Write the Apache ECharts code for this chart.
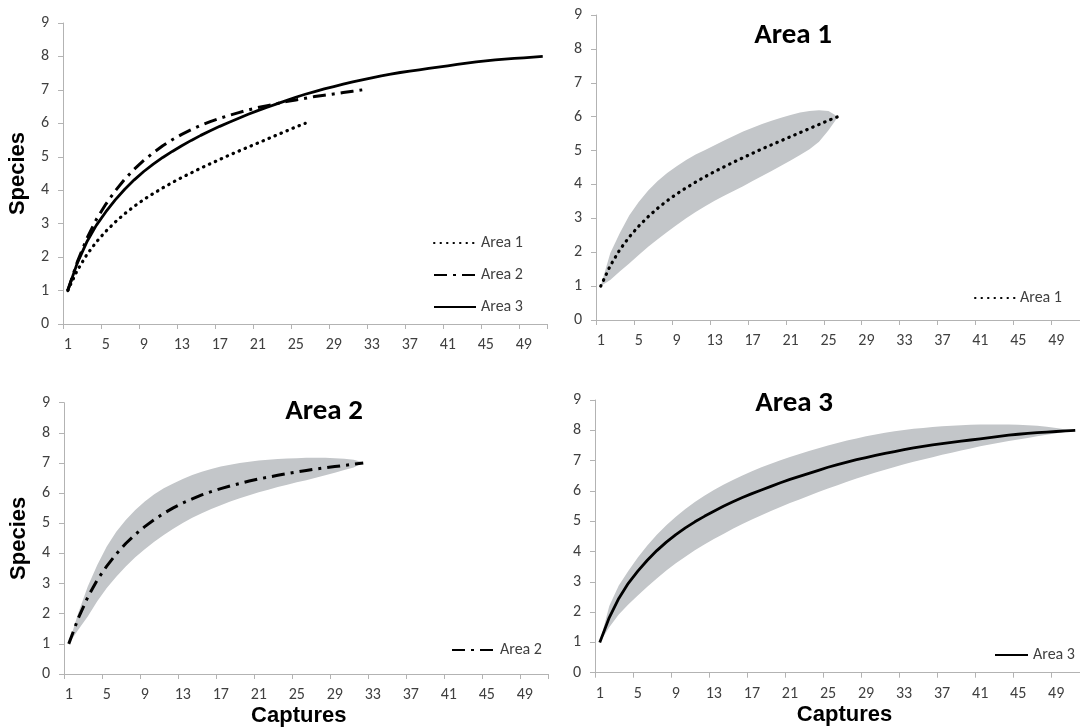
<!DOCTYPE html>
<html><head><meta charset="utf-8">
<script src="https://cdn.jsdelivr.net/npm/echarts@6/dist/echarts.min.js"></script>
<style>html,body{margin:0;padding:0;background:#fff}#c{width:1080px;height:728px}</style>
</head><body><div id="c"></div><script>
// ---- data ----
const captures = ['1','2','3','4','5','6','7','8','9','10','11','12','13','14','15','16','17','18','19','20','21','22','23','24','25','26','27','28','29','30','31','32','33','34','35','36','37','38','39','40','41','42','43','44','45','46','47','48','49','50','51'];
const speciesTicks = [0,1,2,3,4,5,6,7,8,9];

const area1Mean  = [1.00,1.60,2.07,2.45,2.77,3.05,3.30,3.52,3.72,3.90,4.07,4.23,4.38,4.52,4.66,4.79,4.92,5.05,5.17,5.29,5.41,5.53,5.65,5.77,5.89,6.00];
const area1Upper = [1.00,1.97,2.56,3.08,3.48,3.82,4.10,4.34,4.54,4.72,4.88,5.02,5.16,5.30,5.43,5.56,5.67,5.78,5.88,5.97,6.05,6.12,6.17,6.19,6.17,6.00];
const area1Lower = [1.00,1.18,1.43,1.67,1.92,2.16,2.38,2.60,2.80,3.00,3.19,3.36,3.52,3.67,3.81,3.95,4.10,4.25,4.40,4.55,4.71,4.87,5.04,5.26,5.60,6.00];

const area2Mean  = [1.00,1.85,2.55,3.12,3.58,3.98,4.33,4.63,4.89,5.12,5.33,5.51,5.67,5.81,5.94,6.05,6.15,6.24,6.32,6.40,6.47,6.53,6.59,6.65,6.70,6.75,6.80,6.84,6.88,6.92,6.96,7.00];
const area2Upper = [1.00,2.02,2.90,3.62,4.23,4.72,5.11,5.44,5.72,5.96,6.16,6.32,6.47,6.60,6.71,6.80,6.88,6.94,7.00,7.04,7.08,7.11,7.13,7.15,7.16,7.17,7.17,7.17,7.16,7.14,7.11,7.02];
const area2Lower = [1.00,1.47,1.91,2.41,2.85,3.23,3.57,3.87,4.14,4.39,4.61,4.82,5.01,5.18,5.33,5.47,5.60,5.72,5.83,5.93,6.03,6.11,6.20,6.28,6.36,6.43,6.51,6.59,6.68,6.77,6.85,6.98];

const area3Mean  = [1.00,1.82,2.45,2.95,3.35,3.71,4.03,4.31,4.56,4.78,4.98,5.16,5.33,5.49,5.64,5.78,5.91,6.03,6.15,6.27,6.38,6.48,6.58,6.68,6.78,6.87,6.95,7.03,7.10,7.17,7.24,7.30,7.36,7.42,7.47,7.52,7.56,7.60,7.64,7.68,7.72,7.76,7.80,7.84,7.87,7.90,7.92,7.94,7.96,7.98,8.00];
const area3Upper = [1.00,2.20,2.88,3.36,3.80,4.20,4.55,4.87,5.15,5.40,5.63,5.84,6.03,6.20,6.36,6.51,6.65,6.78,6.90,7.01,7.12,7.22,7.32,7.41,7.50,7.58,7.66,7.73,7.80,7.86,7.92,7.97,8.01,8.05,8.08,8.11,8.13,8.15,8.17,8.18,8.19,8.19,8.19,8.19,8.18,8.17,8.15,8.12,8.08,8.03,8.00];
const area3Lower = [1.00,1.50,1.92,2.25,2.55,2.84,3.11,3.37,3.61,3.83,4.04,4.23,4.41,4.58,4.75,4.91,5.06,5.20,5.34,5.47,5.60,5.72,5.84,5.96,6.08,6.19,6.30,6.41,6.51,6.61,6.70,6.79,6.88,6.96,7.04,7.11,7.19,7.26,7.33,7.40,7.47,7.53,7.59,7.65,7.70,7.75,7.80,7.85,7.90,7.95,8.00];

// ---- styles ----
const AXIS = '#b3b3b3', LABEL = '#404040', BAND = '#c3c6c9';
const FONT = 'Carlito, Lato, sans-serif';
const style1 = {color:'#000', width:3.2, type:[0.5,6], cap:'round'};
const style2 = {color:'#000', width:3, type:[13,6,3,6]};
const style3 = {color:'#000', width:2.8, type:'solid'};

const grids = [
  {left:63,  top:23,    width:484.5, height:301},
  {left:596, top:15,    width:487,   height:305},
  {left:64,  top:402.7, width:484.5, height:271.6},
  {left:595, top:400,   width:488.6, height:272.7}
];

function mkX(i, name, pad){
  return {
    type:'category', gridIndex:i, data:captures, boundaryGap:true,
    axisLine:{show:true, lineStyle:{color:AXIS, width:1}},
    axisTick:{show:true, interval:3, length:5, lineStyle:{color:AXIS}},
    axisLabel:{interval:3, margin:13, color:LABEL, fontSize:16, fontFamily:FONT},
    splitLine:{show:false},
    name:name||'', nameLocation:'middle', nameGap:31,
    nameTextStyle:{fontFamily:'Liberation Sans, Arial, sans-serif', fontWeight:'bold', fontSize:22, color:'#000', padding:pad||0}
  };
}
function mkY(i, name){
  return {
    type:'value', gridIndex:i, min:speciesTicks[0], max:speciesTicks[speciesTicks.length-1], interval:1,
    axisLine:{show:true, lineStyle:{color:AXIS, width:1}},
    axisTick:{show:true, length:5, lineStyle:{color:AXIS}},
    axisLabel:{margin:14, color:LABEL, fontSize:16, fontFamily:FONT},
    splitLine:{show:false},
    name:name||'', nameLocation:'middle', nameGap:34, nameRotate:90,
    nameTextStyle:{fontFamily:'Liberation Sans, Arial, sans-serif', fontWeight:'bold', fontSize:22, color:'#000'}
  };
}
function meanSeries(i, name, data, ls){
  return {type:'line', name:name, xAxisIndex:i, yAxisIndex:i, data:data, symbol:'none', smooth:false,
    lineStyle:ls, itemStyle:{color:'#000'}, z:5};
}
function bandSeries(i, key, upper, lower){
  const diff = upper.map((u,k)=>+(u-lower[k]).toFixed(3));
  return [
    {type:'line', name:key+' lower', xAxisIndex:i, yAxisIndex:i, data:lower, stack:key, symbol:'none', smooth:false,
      lineStyle:{width:0, opacity:0}, z:2},
    {type:'line', name:key+' band', xAxisIndex:i, yAxisIndex:i, data:diff, stack:key, symbol:'none', smooth:false,
      lineStyle:{width:0, opacity:0}, areaStyle:{color:BAND, opacity:1}, z:2}
  ];
}
const legendText = {fontFamily:FONT, fontSize:16, color:LABEL};
const legendBase = {itemHeight:14, padding:0, textStyle:legendText, selectedMode:false, itemStyle:{opacity:0, borderWidth:0}};

const titleStyle = {fontFamily:FONT, fontWeight:'bold', fontSize:29, color:'#000'};
const option = {
  animation:false,
  backgroundColor:'#fff',
  title:[
    {text:'Area 1', left:793, top:21, textAlign:'center', padding:0, textStyle:titleStyle},
    {text:'Area 2', left:324, top:397, textAlign:'center', padding:0, textStyle:titleStyle},
    {text:'Area 3', left:794, top:389, textAlign:'center', padding:0, textStyle:titleStyle}
  ],
  legend:[
    Object.assign({data:['Area 1','Area 2','Area 3'], orient:'vertical', left:433, top:235, itemWidth:42, itemGap:16}, legendBase),
    Object.assign({data:['Area 1'], left:974, top:290, itemWidth:40}, legendBase),
    Object.assign({data:['Area 2'], left:451, top:642, itemWidth:43}, legendBase),
    Object.assign({data:['Area 3'], left:994, top:647, itemWidth:33}, legendBase)
  ],
  grid:grids,
  xAxis:[mkX(0), mkX(1), mkX(2,'Captures',[0,15,0,0]), mkX(3,'Captures',[0,0,0,14])],
  yAxis:[mkY(0,'Species'), mkY(1), mkY(2,'Species'), mkY(3)],
  series:[
    meanSeries(0,'Area 1',area1Mean,style1),
    meanSeries(0,'Area 2',area2Mean,style2),
    meanSeries(0,'Area 3',area3Mean,style3),
    ...bandSeries(1,'a1',area1Upper,area1Lower),
    meanSeries(1,'Area 1',area1Mean,style1),
    ...bandSeries(2,'a2',area2Upper,area2Lower),
    meanSeries(2,'Area 2',area2Mean,style2),
    ...bandSeries(3,'a3',area3Upper,area3Lower),
    meanSeries(3,'Area 3',area3Mean,style3)
  ]
};
const chart = echarts.init(document.getElementById('c'), null, {renderer:'canvas'});
chart.setOption(option);
</script></body></html>
